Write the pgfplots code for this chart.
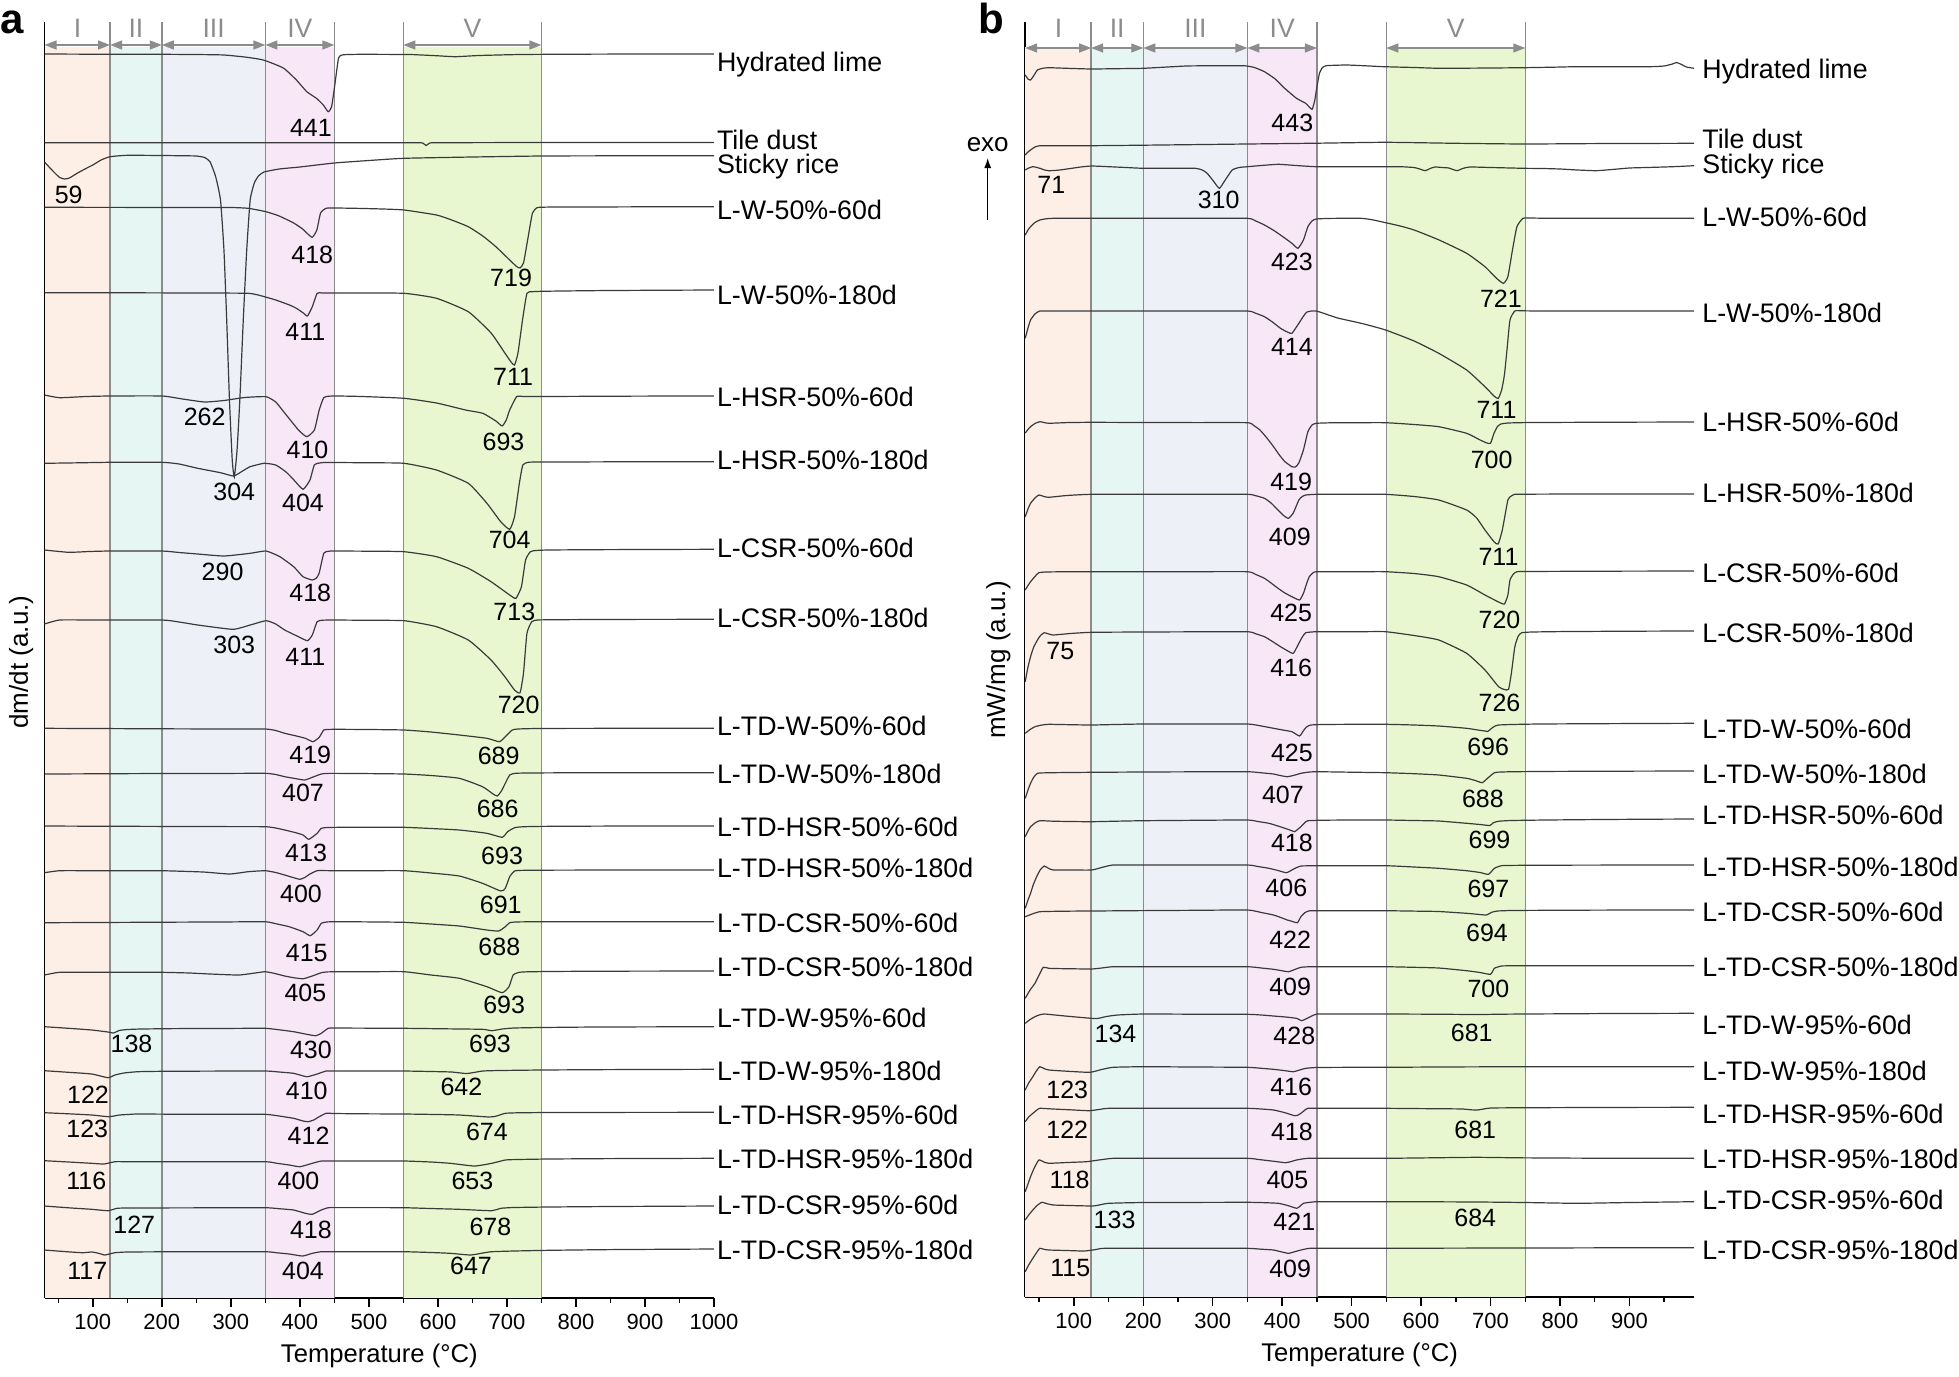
\documentclass[border=0pt]{standalone}
\usepackage{fontspec}
\setmainfont{Liberation Sans}
\usepackage{pgfplots}
\pgfplotsset{compat=1.18}
\usetikzlibrary{arrows.meta}
\definecolor{rI}{HTML}{FDEEE6}
\definecolor{rII}{HTML}{E6F7F3}
\definecolor{rIII}{HTML}{EDF0F6}
\definecolor{rIV}{HTML}{F8E7F7}
\definecolor{rV}{HTML}{E8F7CF}
\definecolor{rg}{HTML}{8C8C8C}
\definecolor{cv}{HTML}{3A3A3A}
\pgfplotsset{
 panel/.style={
  scale only axis, clip=false,
  axis x line*=bottom, axis y line*=left,
  ytick=\empty,
  minor xtick={50,150,...,950},
  tick align=outside, major tick length=4.5pt, minor tick length=2.5pt,
  every tick/.style={black, line width=0.7pt},
  axis line style={black, line width=0.8pt},
  xticklabel style={font=\fontsize{11}{13}\selectfont},
  /pgf/number format/assume math mode=true,
  /pgf/number format/set thousands separator={},
  xlabel={Temperature (°C)},
  xlabel style={font=\fontsize{12.8}{15}\selectfont, at={(axis description cs:0.5,0)}, anchor=center, yshift=-29pt},
 },
 curve/.style={color=cv, line width=0.6pt, smooth, tension=0.3, mark=none},
 reg/.style={draw=none, fill=#1, mark=none, forget plot},
 rline/.style={color=rg, line width=0.7pt, mark=none},
}
\tikzset{
 pk/.style={font=\fontsize{12.5}{14}\selectfont, inner sep=0pt},
 lab/.style={font=\fontsize{13.4}{15}\selectfont, anchor=west, inner sep=0pt},
 rl/.style={font=\fontsize{13.3}{15}\selectfont, text=rg, inner sep=0pt},
 rarrow/.style={rg, line width=0.65pt, {Triangle[length=6pt,width=4.5pt]}-{Triangle[length=6pt,width=4.5pt]}},
 yl/.style={font=\fontsize{13}{15}\selectfont, rotate=90, inner sep=0pt},
}
\begin{document}
\begin{tikzpicture}
\path[use as bounding box] (0,0) rectangle (979.5pt,-688pt);
\node[anchor=base west, inner sep=0pt, font=\bfseries\fontsize{21}{21}\selectfont] at (0pt,-16.5pt) {a};
\node[anchor=base west, inner sep=0pt, font=\bfseries\fontsize{21}{21}\selectfont] at (489pt,-16.5pt) {b};
% ================= PANEL A =================
\begin{axis}[panel, at={(22.25pt,-649pt)}, anchor=south west,
 width=334.75pt, height=638pt, xmin=30, xmax=1000, ymin=-1298, ymax=-22,
 xtick={100,200,...,1000}]
\addplot[reg=rI] coordinates {(30,-1298) (30,-47) (125,-47) (125,-1298)};
\addplot[reg=rII] coordinates {(125,-1298) (125,-47) (200,-47) (200,-1298)};
\addplot[reg=rIII] coordinates {(200,-1298) (200,-47) (350,-47) (350,-1298)};
\addplot[reg=rIV] coordinates {(350,-1298) (350,-47) (450,-47) (450,-1298)};
\addplot[reg=rV] coordinates {(550,-1298) (550,-47) (750,-47) (750,-1298)};
\addplot[rline] coordinates {(125,-1298) (125,-22)};
\addplot[rline] coordinates {(200,-1298) (200,-22)};
\addplot[rline] coordinates {(350,-1298) (350,-22)};
\addplot[rline] coordinates {(450,-1298) (450,-22)};
\addplot[rline] coordinates {(550,-1298) (550,-22)};
\addplot[rline] coordinates {(750,-1298) (750,-22)};
\draw[rarrow] (axis cs:30,-45) -- (axis cs:125,-45);
\draw[rarrow] (axis cs:125,-45) -- (axis cs:200,-45);
\draw[rarrow] (axis cs:200,-45) -- (axis cs:350,-45);
\draw[rarrow] (axis cs:350,-45) -- (axis cs:450,-45);
\draw[rarrow] (axis cs:550,-45) -- (axis cs:750,-45);
\node[rl] at (axis cs:78,-28) {I};
\node[rl] at (axis cs:162.5,-28) {II};
\node[rl] at (axis cs:275,-28) {III};
\node[rl] at (axis cs:400,-28) {IV};
\node[rl] at (axis cs:650,-28) {V};
% curves
\addplot[curve] coordinates {(30,-54) (100,-54.2) (200,-54.3) (260,-54.6) (290,-55) (320,-57) (347,-60) (376,-68) (395,-80) (410,-91.7) (424,-98.3) (434,-105) (441,-111.7) (446,-106.7) (451,-83) (456,-58) (461,-55) (470,-54.5) (490,-54.3) (530,-54.4) (560,-54.5) (600,-55.8) (625,-56.7) (660,-55.5) (720,-54.5) (800,-54.2) (900,-54) (1000,-54)};
\addplot[curve] coordinates {(30,-142.7) (150,-142.7) (300,-142.7) (450,-142.7) (540,-142.7) (570,-142.7) (578,-143) (583,-145.5) (588,-143) (596,-142.7) (620,-142.7) (680,-142.6) (800,-142.5) (1000,-142.5)};
\addplot[curve] coordinates {(30,-162) (38,-168) (45,-173) (52,-177.5) (59,-179) (66,-178) (78,-173) (90,-168.5) (100,-165) (112,-160) (125,-156.7) (150,-155.3) (200,-155.5) (235,-155.8) (250,-156) (262,-157.5) (270,-162) (278,-176.7) (285,-200) (290,-250) (294,-320) (298,-400) (302,-460) (305,-477) (309,-450) (313,-400) (318,-320) (323,-250) (328,-200) (334,-183) (340,-176) (348,-172) (370,-169) (400,-167) (450,-163) (500,-160.5) (551,-158.3) (650,-157) (750,-156) (870,-155.8) (1000,-155.7)};
\addplot[curve] coordinates {(30,-207.3) (150,-207.4) (250,-207.5) (300,-207.5) (325,-208.3) (351,-211.7) (370,-216) (391,-223) (404,-229) (410,-233) (418,-237.3) (424.6,-230) (430,-213) (438,-208.3) (450,-208) (480,-208.3) (520,-209) (551,-210) (598,-215) (620,-220) (644,-226.7) (665,-236) (684,-246.7) (704,-260) (714,-266.5) (719,-268) (724,-263) (730,-240) (737,-213) (744,-207.6) (752,-207.2) (770,-207) (820,-207) (900,-206.8) (1000,-206.7)};
\addplot[curve] coordinates {(30,-292.7) (150,-292.8) (250,-293) (325,-293.3) (345,-296) (365,-300) (385,-305) (395,-308.3) (405,-313) (411,-316) (418,-306.7) (425,-293.3) (432,-293) (445,-293) (480,-293) (551,-293.3) (598,-298.3) (644,-311.7) (677,-333) (697,-353) (706,-362) (711,-365) (716,-353) (722.6,-320) (729,-293.3) (737,-291.7) (750,-291.3) (780,-291) (850,-290.5) (1000,-290)};
\addplot[curve] coordinates {(30,-395) (52,-397.7) (90,-396.5) (125,-396) (200,-396) (230,-399) (262,-402) (290,-400.5) (320,-397.5) (351,-396.7) (365,-402) (378,-413) (398,-430) (410,-436.7) (421,-430) (428,-410) (434.5,-397.7) (442,-396.2) (455,-396) (490,-396.5) (551,-398.3) (598,-403) (640,-410) (665,-413.3) (684,-421) (693,-426) (699,-420) (704,-410) (714,-396.7) (724,-396.5) (750,-396.5) (820,-396.3) (900,-396.1) (1000,-396)};
\addplot[curve] coordinates {(30,-463.3) (80,-462.8) (125,-462.3) (200,-462.3) (225,-464) (252,-468.3) (285,-472.7) (304,-476) (317,-471) (328,-466.7) (348,-463.3) (365,-465) (380,-472) (391.4,-480) (404.6,-489.3) (414.6,-480) (421,-465) (431,-462.7) (450,-462.5) (500,-462.8) (551,-463.3) (598,-470) (644,-483.3) (671,-503.3) (691,-521.7) (704,-529.3) (711,-516.7) (718,-483.3) (723,-465) (731,-462.3) (745,-462) (780,-462) (860,-461.8) (1000,-461.7)};
\addplot[curve] coordinates {(30,-550) (65,-552.3) (95,-551.5) (125,-551) (200,-551) (225,-552.5) (252,-554) (290,-556) (328,-553.3) (351,-551) (371,-556.7) (391,-566.7) (404.6,-576.7) (418,-580) (424,-578) (428,-573) (434.6,-553.3) (441,-551.3) (450,-551) (500,-551.2) (551,-551.7) (598,-556.7) (644,-568.3) (677,-581.7) (704,-595) (713,-598.3) (721,-586.7) (727,-560) (734,-551.7) (742,-550.5) (760,-550) (820,-549.7) (900,-549.5) (1000,-549.3)};
\addplot[curve] coordinates {(30,-624) (52,-620) (100,-620) (200,-620) (225,-622) (252,-625) (303,-629.3) (328,-625) (351,-620.7) (365,-624) (378,-630) (398,-636.7) (411,-640.7) (418,-635) (425,-621.7) (433,-620.2) (450,-620) (500,-620.3) (551,-620.7) (598,-626.7) (644,-640) (677,-660) (697,-676.7) (711,-690) (719,-692.7) (724,-673.3) (729,-633.3) (736,-621.7) (744,-620) (760,-619.8) (800,-619.6) (880,-619.4) (1000,-619.3)};
\addplot[curve] coordinates {(30,-728.3) (100,-728.5) (200,-728.8) (300,-729) (350,-729) (365,-730.5) (378,-733.3) (395,-736) (408,-738.3) (419,-741.7) (428,-737.3) (434.6,-730) (442,-729.4) (455,-729.3) (500,-729.5) (551,-730) (590,-732) (631,-735) (671,-738.3) (689,-741.7) (697.6,-736.7) (707.7,-730) (716,-729) (735,-728.6) (780,-728.4) (870,-728.3) (1000,-728.3)};
\addplot[curve] coordinates {(30,-774) (100,-773.8) (200,-773.5) (300,-773.4) (350,-773.3) (365,-774.5) (378,-776.7) (393,-778.5) (407,-780) (418,-777.3) (431,-774) (440,-773.4) (460,-773.4) (500,-773.6) (551,-774) (590,-775.5) (631,-778.3) (664.6,-786.7) (680,-794) (686,-796) (692,-791) (697.6,-783.3) (704,-775) (712,-773.3) (730,-773) (780,-772.8) (870,-772.7) (1000,-772.7)};
\addplot[curve] coordinates {(30,-826) (100,-826.2) (200,-826.4) (300,-826.6) (350,-826.7) (365,-828) (378,-830) (393,-832.5) (404.6,-835) (413,-839.3) (425,-833.3) (431,-828.3) (440,-827.5) (460,-827.3) (500,-827.3) (551,-827.3) (590,-828.5) (631,-830) (671,-833.3) (693,-837.3) (701,-831.7) (711,-827.7) (722,-826.8) (745,-826.4) (800,-826.2) (880,-826) (1000,-826)};
\addplot[curve] coordinates {(30,-872.7) (52,-870.7) (100,-870.7) (150,-870.7) (200,-870.7) (260,-872) (298,-874) (325,-871.7) (350,-870.7) (365,-872.5) (378,-875) (390,-877.5) (400,-879.3) (407,-877.5) (414.6,-874) (425,-870.7) (437,-870.6) (450,-870.7) (500,-870.7) (551,-870.7) (590,-873) (631,-876) (664.6,-883.3) (691,-891) (697.6,-888.3) (704,-876.7) (711,-871) (720,-870.4) (740,-870.2) (790,-870.1) (870,-870) (1000,-870)};
\addplot[curve] coordinates {(30,-922.7) (100,-922.5) (200,-922.2) (300,-921.9) (350,-921.7) (367,-924) (384.6,-926.7) (404.6,-931.7) (415,-935.7) (425,-930) (431,-923.3) (440,-921.9) (460,-921.7) (500,-921.9) (551,-922.3) (590,-924) (631,-926) (671,-930) (688,-931) (697.6,-926.7) (704,-922.7) (712,-922) (730,-921.8) (780,-921.7) (870,-921.7) (1000,-921.7)};
\addplot[curve] coordinates {(30,-975) (52,-972.3) (100,-972.3) (150,-972.3) (200,-972.3) (240,-973) (270,-974) (311.5,-975) (338,-972.7) (350,-971.7) (364,-973.5) (378,-976) (392,-977.8) (405,-978.7) (418,-976) (431,-972.7) (440,-971.9) (460,-971.7) (500,-971.7) (551,-971.7) (590,-975) (631,-978.3) (671,-986.7) (693,-992.7) (703,-986.7) (709,-975) (718,-972.3) (730,-971.8) (760,-971.5) (830,-971.2) (1000,-971)};
\addplot[curve] coordinates {(30,-1026.7) (65,-1028.3) (98.5,-1030) (122,-1032) (130,-1033) (138,-1030.5) (150,-1029.5) (170,-1029) (220,-1028.6) (300,-1028.4) (350,-1028.3) (370,-1029.8) (391,-1031.7) (410,-1034.3) (423,-1035.7) (431,-1033.3) (441,-1028.3) (450,-1028) (480,-1028.1) (551,-1028.3) (610,-1028.8) (664.6,-1029.3) (678,-1030.7) (693,-1029) (710,-1028) (750,-1027.5) (830,-1027) (1000,-1026.7)};
\addplot[curve] coordinates {(30,-1070.7) (65,-1072.3) (98.6,-1074) (122,-1077.7) (132,-1075) (145,-1073) (165,-1071.7) (200,-1071.3) (270,-1071.1) (350,-1071) (370,-1072) (391,-1073.3) (410,-1076.7) (425,-1074) (438,-1071) (450,-1071) (500,-1071) (551,-1071) (590,-1071.5) (620,-1072) (642,-1073.5) (665,-1071) (690,-1070.5) (750,-1070) (850,-1069.6) (1000,-1069.3)};
\addplot[curve] coordinates {(30,-1112.7) (65,-1113.8) (98.6,-1115) (123,-1116.7) (138.5,-1115) (150,-1114.5) (165,-1114) (220,-1114.2) (300,-1114.3) (350,-1114.3) (370,-1116) (391,-1118.3) (404.6,-1121) (412,-1121.7) (420,-1120) (428,-1116.7) (438,-1113.3) (450,-1113.5) (490,-1113.8) (551,-1114) (590,-1114.4) (631,-1115) (674,-1117) (685,-1116) (697.6,-1113.3) (715,-1112.8) (760,-1112.5) (850,-1112.4) (1000,-1112.3)};
\addplot[curve] coordinates {(30,-1160.7) (65,-1162) (98.6,-1163.3) (116,-1164) (132,-1161.7) (150,-1161.7) (200,-1161.7) (270,-1161.7) (350,-1161.7) (367,-1163.3) (384.6,-1165) (400,-1166.7) (418,-1163.3) (431,-1161) (445,-1161) (490,-1161) (551,-1161) (590,-1162) (618,-1163.3) (653,-1166) (678,-1163.3) (697.6,-1160) (715,-1159.5) (760,-1159) (850,-1158.6) (1000,-1158.3)};
\addplot[curve] coordinates {(30,-1206) (65,-1207.8) (98.6,-1209.3) (122,-1210.7) (135,-1208.3) (150,-1208) (200,-1207.9) (270,-1207.8) (350,-1207.7) (370,-1208.7) (391,-1210) (408,-1213.3) (418,-1214.3) (431,-1210) (441,-1207.7) (455,-1207.6) (500,-1207.6) (551,-1207.7) (590,-1208.5) (631,-1209.3) (678,-1210.7) (691,-1208.3) (710,-1207.5) (760,-1207) (850,-1206.5) (1000,-1206)};
\addplot[curve] coordinates {(30,-1250) (58,-1251.5) (85,-1252.7) (98.6,-1252) (108.6,-1253.3) (117,-1255) (124,-1254) (132,-1252.7) (150,-1252) (200,-1251.8) (270,-1251.7) (350,-1251.7) (367,-1252.8) (384.6,-1254) (404,-1256) (418,-1253.3) (431,-1251.7) (450,-1251.7) (500,-1251.7) (551,-1251.7) (590,-1252.5) (618,-1253.3) (647,-1255) (665,-1253) (678,-1251.7) (710,-1251) (760,-1250.3) (850,-1249.6) (1000,-1249)};
% peak labels
\node[pk] at (axis cs:65,-195) {59};
\node[pk] at (axis cs:416,-128.3) {441};
\node[pk] at (axis cs:418,-255) {418};
\node[pk] at (axis cs:706,-278.3) {719};
\node[pk] at (axis cs:408,-331.7) {411};
\node[pk] at (axis cs:709,-376.7) {711};
\node[pk] at (axis cs:262,-416.7) {262};
\node[pk] at (axis cs:411,-450) {410};
\node[pk] at (axis cs:695,-441.7) {693};
\node[pk] at (axis cs:305,-491.7) {304};
\node[pk] at (axis cs:404.6,-503.3) {404};
\node[pk] at (axis cs:704,-540) {704};
\node[pk] at (axis cs:288,-571.7) {290};
\node[pk] at (axis cs:415,-593.3) {418};
\node[pk] at (axis cs:710.7,-611.7) {713};
\node[pk] at (axis cs:305,-645) {303};
\node[pk] at (axis cs:408,-656.7) {411};
\node[pk] at (axis cs:717,-705) {720};
\node[pk] at (axis cs:415,-755) {419};
\node[pk] at (axis cs:688,-756) {689};
\node[pk] at (axis cs:404.6,-792.7) {407};
\node[pk] at (axis cs:686.6,-809.3) {686};
\node[pk] at (axis cs:409,-853) {413};
\node[pk] at (axis cs:693,-856) {693};
\node[pk] at (axis cs:401.6,-894.3) {400};
\node[pk] at (axis cs:691,-905) {691};
\node[pk] at (axis cs:410,-952.7) {415};
\node[pk] at (axis cs:689,-946.7) {688};
\node[pk] at (axis cs:408,-993.3) {405};
\node[pk] at (axis cs:696,-1005) {693};
\node[pk] at (axis cs:156,-1044.3) {138};
\node[pk] at (axis cs:416,-1050) {430};
\node[pk] at (axis cs:675.5,-1044) {693};
\node[pk] at (axis cs:93,-1095) {122};
\node[pk] at (axis cs:410,-1090.7) {410};
\node[pk] at (axis cs:634,-1086.7) {642};
\node[pk] at (axis cs:92,-1129.3) {123};
\node[pk] at (axis cs:412.6,-1136) {412};
\node[pk] at (axis cs:671,-1131.7) {674};
\node[pk] at (axis cs:90.6,-1181) {116};
\node[pk] at (axis cs:398,-1181) {400};
\node[pk] at (axis cs:650,-1181) {653};
\node[pk] at (axis cs:160,-1225) {127};
\node[pk] at (axis cs:416,-1230) {418};
\node[pk] at (axis cs:676,-1226.7) {678};
\node[pk] at (axis cs:92,-1270.7) {117};
\node[pk] at (axis cs:404.6,-1270.7) {404};
\node[pk] at (axis cs:648,-1266) {647};
% curve labels
\node[lab] at (axis cs:1003.9,-64.7) {Hydrated lime};
\node[lab] at (axis cs:1003.9,-139.5) {Tile dust};
\node[lab] at (axis cs:1003.9,-167) {Sticky rice};
\node[lab] at (axis cs:1003.9,-209.8) {L-W-50\%-60d};
\node[lab] at (axis cs:1003.9,-294.6) {L-W-50\%-180d};
\node[lab] at (axis cs:1003.9,-397) {L-HSR-50\%-60d};
\node[lab] at (axis cs:1003.9,-459.8) {L-HSR-50\%-180d};
\node[lab] at (axis cs:1003.9,-548) {L-CSR-50\%-60d};
\node[lab] at (axis cs:1003.9,-618) {L-CSR-50\%-180d};
\node[lab] at (axis cs:1003.9,-726.4) {L-TD-W-50\%-60d};
\node[lab] at (axis cs:1003.9,-774) {L-TD-W-50\%-180d};
\node[lab] at (axis cs:1003.9,-827) {L-TD-HSR-50\%-60d};
\node[lab] at (axis cs:1003.9,-867.6) {L-TD-HSR-50\%-180d};
\node[lab] at (axis cs:1003.9,-923) {L-TD-CSR-50\%-60d};
\node[lab] at (axis cs:1003.9,-967) {L-TD-CSR-50\%-180d};
\node[lab] at (axis cs:1003.9,-1018) {L-TD-W-95\%-60d};
\node[lab] at (axis cs:1003.9,-1071) {L-TD-W-95\%-180d};
\node[lab] at (axis cs:1003.9,-1115) {L-TD-HSR-95\%-60d};
\node[lab] at (axis cs:1003.9,-1159) {L-TD-HSR-95\%-180d};
\node[lab] at (axis cs:1003.9,-1204.6) {L-TD-CSR-95\%-60d};
\node[lab] at (axis cs:1003.9,-1249.5) {L-TD-CSR-95\%-180d};
\node[yl] at (axis cs:-4,-662) {dm/dt (a.u.)};
\end{axis}
% ================= PANEL B =================
\begin{axis}[panel, at={(512.6pt,-648.5pt)}, anchor=south west,
 width=334.4pt, height=637.5pt, xmin=30, xmax=993, ymin=-1297, ymax=-22,
 xtick={100,200,...,900}]
\addplot[reg=rI] coordinates {(30,-1297) (30,-47) (125,-47) (125,-1297)};
\addplot[reg=rII] coordinates {(125,-1297) (125,-47) (200,-47) (200,-1297)};
\addplot[reg=rIII] coordinates {(200,-1297) (200,-47) (350,-47) (350,-1297)};
\addplot[reg=rIV] coordinates {(350,-1297) (350,-47) (450,-47) (450,-1297)};
\addplot[reg=rV] coordinates {(550,-1297) (550,-47) (750,-47) (750,-1297)};
\addplot[rline] coordinates {(125,-1297) (125,-22)};
\addplot[rline] coordinates {(200,-1297) (200,-22)};
\addplot[rline] coordinates {(350,-1297) (350,-22)};
\addplot[rline] coordinates {(450,-1297) (450,-22)};
\addplot[rline] coordinates {(550,-1297) (550,-22)};
\addplot[rline] coordinates {(750,-1297) (750,-22)};
\draw[rarrow] (axis cs:30,-48) -- (axis cs:125,-48);
\draw[rarrow] (axis cs:125,-48) -- (axis cs:200,-48);
\draw[rarrow] (axis cs:200,-48) -- (axis cs:350,-48);
\draw[rarrow] (axis cs:350,-48) -- (axis cs:450,-48);
\draw[rarrow] (axis cs:550,-48) -- (axis cs:750,-48);
\node[rl] at (axis cs:78,-28) {I};
\node[rl] at (axis cs:162.5,-28) {II};
\node[rl] at (axis cs:275,-28) {III};
\node[rl] at (axis cs:400,-28) {IV};
\node[rl] at (axis cs:650,-28) {V};
% curves
\addplot[curve] coordinates {(30,-75) (34,-79) (37.7,-80) (42,-76) (47.6,-70) (55,-68.3) (64,-67.7) (90,-68.3) (125,-69) (160,-68.7) (200,-68.3) (262,-66) (300,-65.8) (344.6,-65.7) (360,-67.5) (374.5,-71.7) (390,-79) (401,-86.7) (420.6,-98.3) (433.8,-103.3) (443,-109.3) (447,-100) (450.5,-85) (453.7,-73.3) (458,-67.5) (463.6,-65.7) (475,-65.3) (493,-65) (520,-65.8) (546,-66.7) (590,-67.5) (625,-68.3) (660,-68.2) (700,-68) (748,-67.7) (790,-67.2) (824,-66.7) (880,-66.7) (930,-66.7) (950,-66) (962,-64) (968,-62.5) (975,-64.5) (982,-67) (993,-68.3)};
\addplot[curve] coordinates {(30,-155) (34,-152) (37.7,-150) (44,-147) (51,-145.7) (70,-145.7) (95,-145.7) (125,-145.7) (200,-145.2) (350,-144) (450,-143.2) (549,-142.3) (650,-143.3) (748,-144) (850,-143.6) (993,-143.3)};
\addplot[curve] coordinates {(30,-170) (35,-168) (41,-166.7) (46,-167.3) (52,-168.5) (58,-170) (64,-170.7) (72,-170.5) (80,-170) (97,-168.3) (110,-167) (125.5,-166) (150,-166.7) (175,-167.5) (200,-168.3) (240,-168.3) (275,-168.3) (285,-170) (292,-173.3) (301.7,-181.7) (309.6,-188.3) (318,-180) (328,-170) (338,-167.5) (350,-166.7) (370,-165.5) (394.4,-164.3) (420,-165.5) (449,-166.7) (500,-166.7) (549,-166.7) (570,-166.7) (590,-167.5) (598,-169) (606,-170.7) (613,-168.5) (620,-167) (630,-167.5) (640,-168) (646,-169.5) (652,-170.7) (660,-168.5) (670,-167) (700,-167.5) (748,-168.3) (775,-168.5) (800,-169) (825,-170) (852.5,-170.7) (875,-169.5) (900,-168) (925,-167.5) (950,-167) (970,-166.5) (993,-165.7)};
\addplot[curve] coordinates {(30,-235) (34,-230) (37.7,-226.7) (44,-222.5) (51,-220) (60,-218.8) (70.7,-218.3) (95,-218.3) (125,-218.3) (200,-218.3) (275,-218.3) (350,-218.3) (362,-221) (374.5,-225) (388,-230.5) (401,-236.7) (414,-243.3) (422.7,-248.3) (430.6,-240) (437,-226.7) (443,-221) (449,-219) (470,-218.4) (513,-218.3) (530,-219.8) (549,-222.7) (570,-226) (590,-230) (626,-240) (665.6,-253.3) (692,-266.7) (708.6,-278.3) (718.6,-283.3) (725,-276.7) (731.6,-250) (738,-226.7) (746.6,-218.3) (755,-218) (775,-218.2) (820,-218.3) (900,-218.3) (993,-218.3)};
\addplot[curve] coordinates {(30,-338.3) (34,-328) (37.7,-320) (44,-314) (51,-311) (70,-311) (95,-311) (125,-311) (200,-311) (275,-311) (350,-311) (362,-313.3) (374.5,-316.7) (386,-322) (397.6,-328.3) (406,-331.5) (414,-333.3) (424,-323.3) (435,-312.3) (449,-311) (480,-318) (515,-323.5) (549,-330) (590,-341) (625.5,-353.3) (665.6,-370) (692,-386.7) (705,-396) (711,-398.5) (716,-390) (720,-375) (723.7,-350) (728,-320) (735,-311) (745,-310.8) (770,-311) (830,-311) (900,-311) (993,-311)};
\addplot[curve] coordinates {(30,-433) (34,-429.5) (37.7,-426.7) (44,-423.5) (51,-421.7) (57,-422.5) (64,-423.3) (90,-422.6) (125,-422.3) (200,-422.5) (275,-422.6) (350,-422.7) (359,-425.5) (368,-430) (378,-438) (387.6,-446.7) (396,-455) (404,-461.7) (414,-466.7) (419,-467) (424,-463) (430.6,-450) (437,-431.7) (443,-425) (449,-423.3) (470,-422.8) (510,-422.7) (549,-422.7) (590,-424.5) (625.5,-426.7) (665.6,-433.3) (685,-440) (694,-442.8) (700,-443.3) (705,-433.3) (710,-426.5) (715,-424) (725,-423) (750,-422.6) (800,-422.4) (880,-422.2) (993,-422)};
\addplot[curve] coordinates {(30,-516.7) (34,-509) (37.7,-503.3) (44,-498) (49.6,-495) (57,-496.5) (64,-497.3) (90,-495.5) (125,-494.3) (200,-494.3) (275,-494.3) (350,-494.3) (362,-495.7) (374.5,-498.3) (384,-503) (394,-510) (402,-515.5) (409,-518.3) (416,-513) (424,-500) (429,-496.5) (434,-495) (449,-494.3) (480,-494.3) (515,-494.3) (549,-494.3) (590,-496.5) (625.5,-500) (665.6,-510) (680,-518) (692,-530) (705,-541.7) (711,-544) (717,-530) (725,-500) (730,-496) (735,-494.3) (750,-494.2) (780,-494.1) (850,-494) (920,-494) (993,-494)};
\addplot[curve] coordinates {(30,-590) (34,-585.5) (37.7,-581.7) (44,-576.5) (49.6,-572.7) (60,-572) (80,-571.8) (125,-571.7) (200,-571.7) (275,-571.7) (350,-571.7) (362,-574.5) (374.5,-578.3) (384,-583) (394,-588.3) (404,-593) (414,-596.7) (425,-600) (430.6,-593.3) (435,-584) (439,-576.7) (444,-573) (449,-571.7) (480,-571.7) (515,-571.7) (549,-571.7) (590,-573.5) (625.5,-576.7) (665.6,-585) (692,-595) (711.6,-602) (720,-604) (725,-595) (728,-580) (733,-574) (738,-571.7) (750,-571.5) (780,-571.4) (850,-571.2) (920,-571.1) (993,-571)};
\addplot[curve] coordinates {(30,-681.7) (34,-667) (37.7,-656.7) (42,-647.5) (47.6,-640) (52,-635.5) (57.5,-632.7) (64,-634) (70.7,-635) (95,-633.5) (125,-632.3) (200,-632) (275,-631.8) (350,-631.7) (362,-633.8) (374.5,-636.7) (386,-641.5) (397.6,-646.7) (407,-650.5) (416,-653.3) (424,-643.3) (429,-637) (434,-632.7) (449,-631.7) (480,-631.7) (515,-631.7) (549,-631.7) (590,-635.5) (625.5,-640) (665.6,-653.3) (692,-670) (711.6,-686.7) (720,-689.5) (726,-689.3) (730,-673.3) (735,-646.7) (740,-636) (745,-632.7) (760,-632) (800,-631.6) (870,-631.3) (940,-631.1) (993,-631)};
\addplot[curve] coordinates {(30,-733.3) (37,-729.5) (44,-726.7) (54,-725) (64,-724.3) (95,-724.7) (125,-725) (160,-724.5) (200,-724) (275,-724) (350,-724) (370,-726) (387.6,-728.3) (401,-730) (414,-731.7) (425,-736) (430.6,-730.7) (435,-727) (441,-725) (460,-724.5) (500,-724.3) (549,-724.3) (590,-725) (625.5,-726) (665.6,-728.3) (680,-729.8) (692,-731) (696,-731.5) (701.6,-728.3) (706,-726.2) (711.6,-725) (730,-724.5) (770,-724) (850,-723.7) (920,-723.5) (993,-723.3)};
\addplot[curve] coordinates {(30,-798.3) (34,-790) (37.7,-783.3) (42,-777.5) (47.6,-773.3) (60,-772.8) (80,-772.6) (125,-772.3) (200,-772) (275,-771.8) (350,-771.7) (370,-772.8) (387.6,-774) (397,-775.5) (407.4,-776.7) (417,-775.3) (427,-773.3) (437,-772.2) (449,-771.7) (500,-772.2) (549,-772.7) (590,-773.7) (625.5,-775) (665.6,-778.3) (678,-780.5) (688,-782.7) (695.6,-778.3) (705.6,-772.7) (715,-772) (735,-771.7) (790,-771.4) (870,-771.2) (993,-771)};
\addplot[curve] coordinates {(30,-836.7) (34,-831) (37.7,-826.7) (44,-823) (51,-820.7) (70,-821.2) (95,-821.5) (125,-821.7) (160,-821.2) (200,-820.7) (275,-820.3) (350,-820) (365,-821.5) (381,-823.3) (393,-825.8) (404,-828.3) (411,-830) (418,-831.7) (422,-829.5) (427,-826.7) (432,-823) (437,-820.7) (460,-820.2) (500,-820) (549,-820) (590,-820.5) (625.5,-821) (665.6,-823.3) (685,-824.5) (699,-825.5) (704,-822.7) (712,-821.2) (730,-820.5) (780,-820) (860,-819.5) (930,-819.2) (993,-819)};
\addplot[curve] coordinates {(30,-908.3) (34,-900) (37.7,-893.3) (42,-884) (47.6,-875) (52,-869.5) (57.5,-866) (64,-868.5) (70.7,-870) (95,-870) (125.5,-870) (140,-867.5) (156.5,-865) (200,-865) (275,-865) (350,-865) (365,-866.5) (381,-868.3) (394,-870.5) (406,-872.7) (414,-870) (420,-867.8) (427,-866) (440,-865.8) (480,-865.7) (549,-865.7) (590,-867) (625.5,-868.3) (665.6,-870.7) (685,-872.5) (697,-874.3) (705.6,-868.3) (715.6,-865.7) (730,-865.4) (770,-865.2) (850,-865.1) (920,-865) (993,-865)};
\addplot[curve] coordinates {(30,-916.7) (40,-914) (51,-911.7) (75,-911.3) (100,-911.1) (125.5,-911) (200,-910.6) (275,-910.3) (350,-910) (370,-912.5) (387.6,-915) (398,-917.5) (407.4,-920) (415,-921.5) (422,-922.7) (427,-916.7) (433,-912.5) (440,-910.7) (460,-910.7) (500,-910.7) (549,-910.7) (590,-911.1) (625.5,-911.5) (665.6,-913.3) (680,-914.2) (694,-915) (701.6,-912.3) (710,-911) (730,-910.5) (780,-910.3) (860,-910.1) (930,-910) (993,-910)};
\addplot[curve] coordinates {(30,-998.3) (37,-990) (44,-983.3) (50,-975) (56,-967.3) (64,-968.3) (80,-968.6) (100,-968.8) (125.5,-969) (140,-968) (156.5,-966.7) (200,-966.7) (275,-966.7) (350,-966.7) (370,-968) (387.6,-969.3) (398,-970.5) (409,-971.7) (418,-969.5) (427,-967.3) (437,-966.8) (449,-966.7) (500,-966.7) (549,-966.7) (590,-967.3) (625.5,-968) (665.6,-970.7) (685,-972.5) (700,-974.3) (705.6,-968.3) (715.6,-966) (730,-965.8) (770,-965.7) (850,-965.7) (920,-965.7) (993,-965.7)};
\addplot[curve] coordinates {(30,-1023.3) (37,-1019.5) (44,-1016.7) (50,-1015) (57.5,-1014) (80,-1015.5) (100,-1016.8) (125.5,-1018.3) (134,-1018.5) (147,-1016.5) (163,-1015) (200,-1014) (275,-1014.2) (350,-1014.3) (370,-1015) (387.6,-1016) (405,-1017) (420.6,-1018.3) (428,-1020.7) (434,-1019) (440.5,-1016.7) (450,-1014) (480,-1014) (549,-1014) (620,-1014.2) (681,-1014.5) (715,-1014.2) (748,-1014) (800,-1013.8) (880,-1013.5) (993,-1013.3)};
\addplot[curve] coordinates {(30,-1090) (35,-1083) (41,-1076.7) (46,-1071) (51,-1066.7) (57,-1068.5) (64,-1070) (90,-1071.2) (123,-1072.3) (140,-1069.5) (156.5,-1067.3) (200,-1066.7) (275,-1067) (350,-1067.3) (370,-1068.3) (387.6,-1069.3) (402,-1070.5) (416,-1071.7) (425,-1070) (434,-1068.3) (450,-1067.5) (500,-1067.3) (549,-1067.3) (620,-1067) (700,-1066.8) (800,-1066.7) (900,-1066.7) (993,-1066.7)};
\addplot[curve] coordinates {(30,-1121.7) (35,-1117) (41,-1113.3) (46,-1110.5) (51,-1108.3) (70,-1109) (95,-1109.8) (122,-1110.7) (136,-1109.5) (150,-1108.3) (200,-1108.3) (275,-1108.3) (350,-1108.3) (370,-1109) (387.6,-1110) (403,-1112.5) (418,-1115.7) (423,-1115) (427,-1113.3) (432,-1110.5) (437,-1108.3) (460,-1108.3) (500,-1108.3) (549,-1108.3) (600,-1108.6) (640,-1108.8) (660,-1109) (672,-1109.8) (681,-1110) (690,-1109) (700,-1108) (730,-1107.8) (800,-1107.6) (900,-1107.4) (993,-1107.3)};
\addplot[curve] coordinates {(30,-1191.7) (34,-1184) (37.7,-1176.7) (43,-1168) (49.6,-1160) (57,-1162) (64,-1163.3) (90,-1162.5) (118,-1161.7) (136,-1160) (156.5,-1158.3) (200,-1158.3) (275,-1158.3) (350,-1158.3) (366,-1159.5) (381,-1160.7) (393,-1161.7) (405,-1162.7) (413,-1161.5) (420.6,-1160) (437,-1158.3) (480,-1158.3) (549,-1158.3) (615,-1157.8) (680,-1157.3) (740,-1157.8) (820,-1158.1) (900,-1158.3) (993,-1158.3)};
\addplot[curve] coordinates {(30,-1220) (35,-1215) (41,-1210) (47,-1205.5) (54,-1202.3) (62,-1203.8) (70.7,-1205) (95,-1205.5) (125.5,-1206) (133,-1205.5) (150,-1203.3) (200,-1202.5) (275,-1202.4) (350,-1202.3) (372,-1202.6) (394.4,-1203.3) (408,-1205.5) (421,-1208.3) (426,-1206) (430.6,-1203.3) (440,-1202.3) (450,-1201.7) (500,-1201.7) (549,-1201.7) (620,-1201.8) (684,-1202) (750,-1202.5) (824,-1203.3) (900,-1202.5) (993,-1201.7)};
\addplot[curve] coordinates {(30,-1271.7) (35,-1265) (41,-1258.3) (46,-1253) (51,-1248.3) (57,-1249.3) (64,-1250) (90,-1250.5) (115,-1251) (130,-1249.7) (143.4,-1248.3) (200,-1248.3) (275,-1248.3) (350,-1248.3) (370,-1249.2) (387.6,-1250) (398,-1251.7) (409,-1253.3) (418,-1251.7) (427,-1250) (440,-1248.3) (480,-1248.3) (549,-1248.3) (650,-1248.1) (750,-1248) (870,-1247.8) (993,-1247.7)};
% peak labels
\node[pk] at (axis cs:414.6,-123.3) {443};
\node[pk] at (axis cs:67.5,-185) {71};
\node[pk] at (axis cs:308.5,-200) {310};
\node[pk] at (axis cs:414,-261.7) {423};
\node[pk] at (axis cs:715,-298.3) {721};
\node[pk] at (axis cs:414,-346.7) {414};
\node[pk] at (axis cs:708.6,-410) {711};
\node[pk] at (axis cs:413,-481.7) {419};
\node[pk] at (axis cs:701.6,-460) {700};
\node[pk] at (axis cs:411,-536.7) {409};
\node[pk] at (axis cs:711.5,-556.7) {711};
\node[pk] at (axis cs:413,-613.3) {425};
\node[pk] at (axis cs:713,-620) {720};
\node[pk] at (axis cs:80.6,-650.7) {75};
\node[pk] at (axis cs:413,-668.3) {416};
\node[pk] at (axis cs:713,-703.3) {726};
\node[pk] at (axis cs:414,-752.7) {425};
\node[pk] at (axis cs:696.6,-746.7) {696};
\node[pk] at (axis cs:401,-795) {407};
\node[pk] at (axis cs:689,-799) {688};
\node[pk] at (axis cs:414,-843.3) {418};
\node[pk] at (axis cs:698.6,-840) {699};
\node[pk] at (axis cs:406,-888.3) {406};
\node[pk] at (axis cs:697,-889.3) {697};
\node[pk] at (axis cs:411.5,-939.3) {422};
\node[pk] at (axis cs:695,-933.3) {694};
\node[pk] at (axis cs:411.5,-986.7) {409};
\node[pk] at (axis cs:697,-989.3) {700};
\node[pk] at (axis cs:160,-1034.3) {134};
\node[pk] at (axis cs:417.5,-1036) {428};
\node[pk] at (axis cs:673,-1033.3) {681};
\node[pk] at (axis cs:90.5,-1090) {123};
\node[pk] at (axis cs:413,-1087.3) {416};
\node[pk] at (axis cs:90.5,-1129.3) {122};
\node[pk] at (axis cs:414,-1131.7) {418};
\node[pk] at (axis cs:678,-1130) {681};
\node[pk] at (axis cs:94,-1180) {118};
\node[pk] at (axis cs:407.5,-1180) {405};
\node[pk] at (axis cs:158.7,-1220) {133};
\node[pk] at (axis cs:417.5,-1221.7) {421};
\node[pk] at (axis cs:678,-1218.3) {684};
\node[pk] at (axis cs:95,-1268.3) {115};
\node[pk] at (axis cs:411.5,-1269.3) {409};
% curve labels
\node[lab] at (axis cs:1004.5,-71.4) {Hydrated lime};
\node[lab] at (axis cs:1004.5,-138.5) {Tile dust};
\node[lab] at (axis cs:1004.5,-167) {Sticky rice};
\node[lab] at (axis cs:1004.5,-216.5) {L-W-50\%-60d};
\node[lab] at (axis cs:1004.5,-312.5) {L-W-50\%-180d};
\node[lab] at (axis cs:1004.5,-421.9) {L-HSR-50\%-60d};
\node[lab] at (axis cs:1004.5,-493) {L-HSR-50\%-180d};
\node[lab] at (axis cs:1004.5,-572.8) {L-CSR-50\%-60d};
\node[lab] at (axis cs:1004.5,-633) {L-CSR-50\%-180d};
\node[lab] at (axis cs:1004.5,-728.7) {L-TD-W-50\%-60d};
\node[lab] at (axis cs:1004.5,-774) {L-TD-W-50\%-180d};
\node[lab] at (axis cs:1004.5,-815) {L-TD-HSR-50\%-60d};
\node[lab] at (axis cs:1004.5,-866.7) {L-TD-HSR-50\%-180d};
\node[lab] at (axis cs:1004.5,-911.6) {L-TD-CSR-50\%-60d};
\node[lab] at (axis cs:1004.5,-967) {L-TD-CSR-50\%-180d};
\node[lab] at (axis cs:1004.5,-1025) {L-TD-W-95\%-60d};
\node[lab] at (axis cs:1004.5,-1071) {L-TD-W-95\%-180d};
\node[lab] at (axis cs:1004.5,-1114) {L-TD-HSR-95\%-60d};
\node[lab] at (axis cs:1004.5,-1159) {L-TD-HSR-95\%-180d};
\node[lab] at (axis cs:1004.5,-1200) {L-TD-CSR-95\%-60d};
\node[lab] at (axis cs:1004.5,-1249.5) {L-TD-CSR-95\%-180d};
\node[yl] at (axis cs:-8.6,-660) {mW/mg (a.u.)};
\node[font=\fontsize{13}{15}\selectfont, inner sep=0pt] at (axis cs:-24,-145) {exo};
\draw[-{Latex[length=5pt,width=3.5pt]}, line width=0.6pt] (axis cs:-24,-220) -- (axis cs:-24,-158);
\end{axis}
\end{tikzpicture}
\end{document}
